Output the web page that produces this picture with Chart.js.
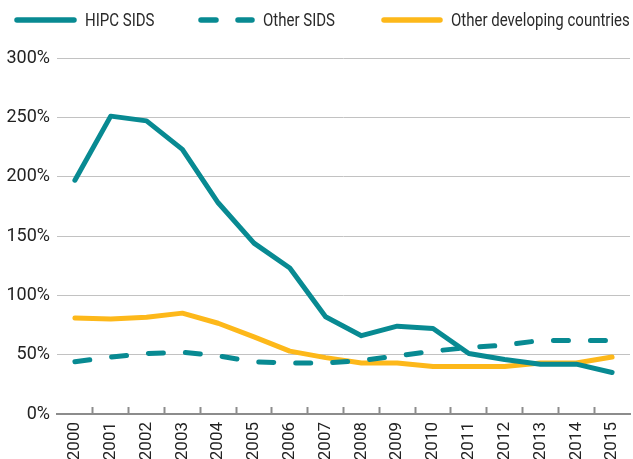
<!DOCTYPE html>
<html>
<head>
<meta charset="utf-8">
<script src="https://cdn.jsdelivr.net/npm/chart.js@4.4.1/dist/chart.umd.min.js"></script>
<style>
  body { margin: 0; background: #fff; }
  .wrap { position: relative; width: 633px; height: 459px; }
  #legend {
    position: absolute; left: 0; top: 0; width: 633px; height: 40px;
    font: 19px Roboto, 'Liberation Sans', sans-serif;
    color: #2a2a2a; white-space: nowrap;
  }
  #legend .item { position: absolute; top: 9px; height: 22px; }
  #legend svg { position: absolute; left: 0; top: 5px; }
  #legend span { position: absolute; top: -1px; transform: scaleX(0.79); transform-origin: left center; }
</style>
</head>
<body>
<div class="wrap">
  <canvas id="chart" width="633" height="459"></canvas>
  <div id="legend"></div>
</div>
<script>
const years = ['2000', '2001', '2002', '2003', '2004', '2005', '2006', '2007',
  '2008', '2009', '2010', '2011', '2012', '2013', '2014', '2015']
const hipcSids = [197, 251, 247, 223, 178, 144, 123, 82, 66, 74, 72, 51, 46, 42, 42, 35]
const otherSids = [44, 48, 51, 52, 49, 44, 43, 43, 45, 49, 53, 56, 58, 62, 62, 62]
const otherDev = [81, 80, 81.5, 85, 76.5, 65, 53, 47.5, 43, 43, 40, 40, 40, 43, 43, 48]
const yTicks = [0, 50, 100, 150, 200, 250, 300]
const seriesNames = ['HIPC SIDS', 'Other SIDS', 'Other developing countries']

const teal = '#088A92'
const yellow = '#FDB81A'
Chart.defaults.font.family = "Roboto, 'Liberation Sans', sans-serif"
Chart.defaults.color = '#222'

const series = [
  { label: seriesNames[0], data: hipcSids, color: teal, dash: [] },
  { label: seriesNames[1], data: otherSids, color: teal, dash: [15, 22] },
  { label: seriesNames[2], data: otherDev, color: yellow, dash: [] }
]

// legend layout: left edge of the line sample, line length, gap to text
const legendLeft = [14, 198, 381]
const legendLine = [63, 57, 62]

const legend = document.querySelector('#legend')
series.forEach((s, i) => {
  let item = document.createElement('div')
  item.className = 'item'
  item.style.left = legendLeft[i] + 'px'
  let w = legendLine[i]
  item.innerHTML = '<svg width="' + w + '" height="12"><line x1="3" y1="6" x2="' + (w - 3) +
    '" y2="6" stroke="' + s.color + '" stroke-width="5.5" stroke-linecap="round"' +
    (s.dash.length ? ' stroke-dasharray="' + s.dash.join(' ') + '"' : '') + '/></svg>' +
    '<span style="left:' + (w + 8) + 'px">' + s.label + '</span>'
  legend.append(item)
})

new Chart(document.querySelector('#chart'), {
  type: 'line',
  data: {
    labels: years,
    datasets: series.map(s => ({
      label: s.label,
      data: s.data,
      borderColor: s.color,
      backgroundColor: s.color,
      borderWidth: 5,
      borderDash: s.dash,
      borderCapStyle: 'round',
      borderJoinStyle: 'round',
      pointRadius: 0,
      tension: 0,
      fill: false
    }))
  },
  options: {
    responsive: false,
    animation: false,
    layout: { padding: { top: 58, right: 3, left: 0, bottom: 0 } },
    plugins: { legend: { display: false }, tooltip: { enabled: false } },
    scales: {
      x: {
        offset: true,
        afterFit: scale => {
          scale.height = 45
          scale.paddingLeft = 0
          scale.paddingRight = 0
        },
        grid: {
          offset: true,
          drawOnChartArea: false,
          drawTicks: true,
          tickLength: -7,
          tickWidth: 2,
          tickColor: ctx => (ctx.index > 0 && ctx.index < years.length) ? '#8c8c8c' : 'rgba(0,0,0,0)'
        },
        border: { display: true, color: '#8c8c8c', width: 2 },
        ticks: {
          minRotation: 90,
          maxRotation: 90,
          padding: 15,
          autoSkip: false,
          font: { size: 17 },
          color: '#222'
        }
      },
      y: {
        min: yTicks[0],
        max: yTicks[yTicks.length - 1],
        afterFit: scale => { scale.width = 57 },
        afterBuildTicks: scale => { scale.ticks = yTicks.map(v => ({ value: v })) },
        grid: {
          drawTicks: false,
          color: ctx => ctx.tick && ctx.tick.value === 0 ? 'rgba(0,0,0,0)' : '#c2c2c2',
          lineWidth: 1
        },
        border: { display: false },
        ticks: {
          padding: 7,
          font: { size: 18 },
          color: '#222',
          callback: v => v + '%'
        }
      }
    }
  }
})
</script>
</body>
</html>
